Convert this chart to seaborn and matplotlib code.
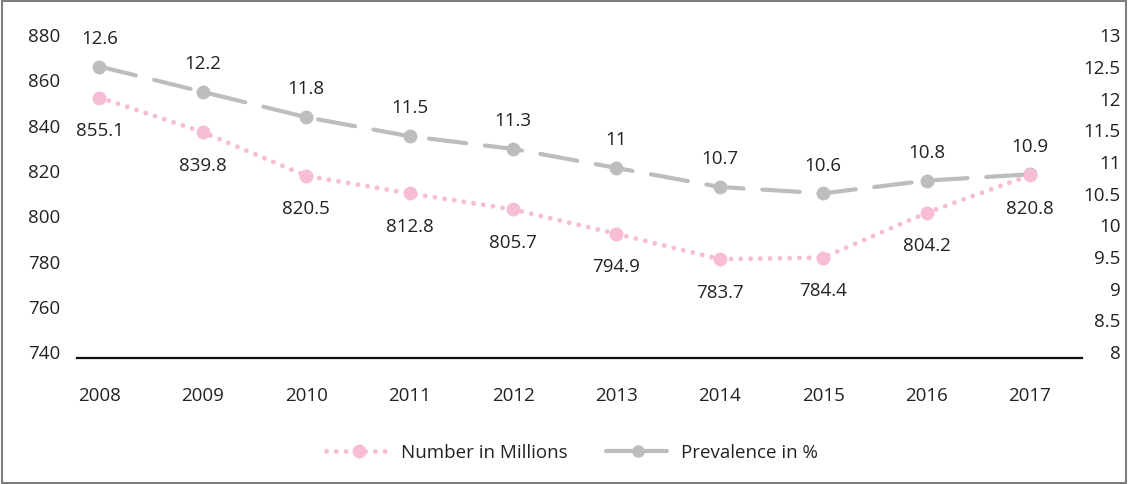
import matplotlib
matplotlib.use("Agg")
import matplotlib.pyplot as plt
import matplotlib.transforms as mtransforms
from matplotlib.lines import Line2D
from matplotlib.patches import Rectangle
import seaborn as sns
import pandas as pd

years = ["2008", "2009", "2010", "2011", "2012", "2013", "2014", "2015", "2016", "2017"]
number_millions = [855.1, 839.8, 820.5, 812.8, 805.7, 794.9, 783.7, 784.4, 804.2, 820.8]
prevalence_pct = [12.6, 12.2, 11.8, 11.5, 11.3, 11.0, 10.7, 10.6, 10.8, 10.9]
prevalence_labels = ["12.6", "12.2", "11.8", "11.5", "11.3", "11", "10.7", "10.6", "10.8", "10.9"]
left_ticks = [740, 760, 780, 800, 820, 840, 860, 880]
right_ticks = [8, 8.5, 9, 9.5, 10, 10.5, 11, 11.5, 12, 12.5, 13]
right_tick_labels = ["8", "8.5", "9", "9.5", "10", "10.5", "11", "11.5", "12", "12.5", "13"]

sns.set_theme(style="white")
plt.rcParams["font.family"] = ["Open Sans", "DejaVu Sans"]

PINK = "#F7BCD6"
GREY = "#BDBDC0"
TXT = "#222222"
FS = 13.5

df = pd.DataFrame({"idx": range(len(years)), "num": number_millions, "prev": prevalence_pct})

fig = plt.figure(figsize=(11.28, 4.84), dpi=100)
ax = fig.add_axes([0.068, 0.260, 0.891, 0.655])
ax2 = ax.twinx()

sns.lineplot(data=df, x="idx", y="prev", ax=ax2, color=GREY, lw=3.0,
             marker="o", markersize=10, markeredgewidth=0,
             linestyle=(0, (9, 4.5)), dash_capstyle="round")
sns.lineplot(data=df, x="idx", y="num", ax=ax, color=PINK, lw=3.5,
             marker="o", markersize=10, markeredgewidth=0,
             linestyle=(0, (0.01, 2.0)), dash_capstyle="round")

ax.set_zorder(ax2.get_zorder() + 1)
ax.patch.set_visible(False)

ax.set_xlim(-0.22, 9.5)
ax.set_ylim(740, 880)
ax2.set_ylim(8, 13)
ax.set_xticks(range(len(years)))
ax.set_xticklabels(years)
ax.set_yticks(left_ticks)
ax.set_yticklabels([str(t) for t in left_ticks])
ax2.set_yticks(right_ticks)
ax2.set_yticklabels(right_tick_labels)

for a in (ax, ax2):
    a.set_xlabel("")
    a.set_ylabel("")
    for s in a.spines.values():
        s.set_visible(False)
    a.grid(False)
ax.spines["bottom"].set_visible(True)
ax.spines["bottom"].set_color("#111111")
ax.spines["bottom"].set_linewidth(1.6)

ax.tick_params(axis="both", length=0, labelsize=FS, colors=TXT)
ax.tick_params(axis="x", pad=21)
ax.tick_params(axis="y", pad=12)
ax2.tick_params(axis="y", length=0, labelsize=FS, colors=TXT, pad=28)

shift = mtransforms.ScaledTranslation(0, 6 / 100, fig.dpi_scale_trans)
for lab in ax.get_yticklabels():
    lab.set_transform(lab.get_transform() + shift)
for lab in ax2.get_yticklabels():
    lab.set_horizontalalignment("right")
    lab.set_transform(lab.get_transform() + shift)

for i, (v, lab) in enumerate(zip(prevalence_pct, prevalence_labels)):
    ax2.annotate(lab, (i, v), xytext=(0, 20), textcoords="offset points",
                 ha="center", va="center", fontsize=FS, color=TXT)
for i, v in enumerate(number_millions):
    ax.annotate(f"{v:.1f}", (i, v), xytext=(0, -24), textcoords="offset points",
                ha="center", va="center", fontsize=FS, color=TXT)

handles = [
    Line2D([], [], color=PINK, lw=3.5, linestyle=(0, (0.01, 2.0)), dash_capstyle="round",
           marker="o", markersize=10, markeredgewidth=0),
    Line2D([], [], color=GREY, lw=3.0, linestyle=(0, (6.2, 2.2)), dash_capstyle="round",
           marker="o", markersize=9, markeredgewidth=0),
]
fig.legend(handles, ["Number in Millions", "Prevalence in %"], loc="center",
           bbox_to_anchor=(0.507, 0.064), ncol=2, frameon=False, fontsize=FS,
           handlelength=3.5, handletextpad=0.5, columnspacing=2.0, labelcolor=TXT)

fig.patches.append(Rectangle((0.002, 0.003), 0.996, 0.994, transform=fig.transFigure,
                             fill=False, edgecolor="#7F7F7F", lw=1.5))

fig.savefig("out.png", dpi=100)
